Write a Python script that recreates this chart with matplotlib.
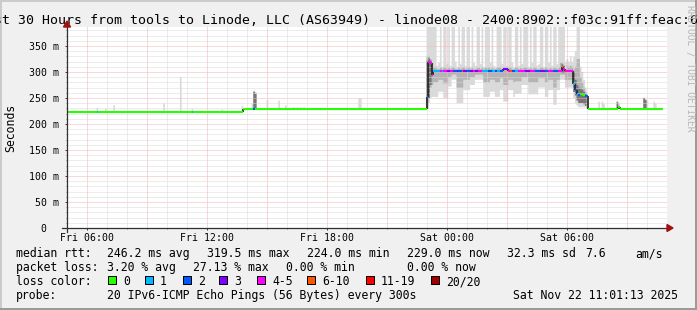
import numpy as np
import matplotlib
matplotlib.use("Agg")
import matplotlib.pyplot as plt
from matplotlib.patches import Rectangle, Polygon
from matplotlib.lines import Line2D
from matplotlib.collections import LineCollection

# ---------------- data ----------------
title = "Last 30 Hours from tools to Linode, LLC (AS63949) - linode08 - 2400:8902::f03c:91ff:feac:6"
window_start_h = 5 + 1 / 60 + 13 / 3600      # Fri 05:01:13 (hours since Fri 00:00)
window_hours = 30
first_sample_h = 5 + 5 / 60                   # Fri 05:05
step_h = 5 / 60                               # 300 s
n_samples = 357

x_tick_hours = [6, 12, 18, 24, 30]
x_tick_labels = ["Fri 06:00", "Fri 12:00", "Fri 18:00", "Sat 00:00", "Sat 06:00"]
y_tick_values = [0, 50, 100, 150, 200, 250, 300, 350]
y_tick_labels = ["0  ", "50 m", "100 m", "150 m", "200 m", "250 m", "300 m", "350 m"]

# median rtt (ms) as runs of equal values
median_run_values = [224, 229, 252, 320, 318, 294, 302.5, 305, 302.5, 310, 305, 302.5,
                     277, 266, 258, 256, 257, 256, 253, 229, 233, 229]
median_run_counts = [105, 110, 1, 1, 1, 1, 42, 3, 32, 1, 1, 5,
                     1, 1, 1, 1, 1, 2, 2, 18, 1, 26]

# lost pings (of 20) per sample
loss_isolated_idx = [17, 74, 111]
loss_isolated_val = [1, 1, 2]
loss_block_start = 215
loss_block = [2, 4, 4, 4,
              1, 1, 1, 1, 4, 1, 4, 4, 3, 3,
              4, 4, 2, 2, 3, 2, 2, 6, 3, 3,
              2, 2, 3, 3, 4, 3, 3, 4, 4, 1,
              1, 1, 1, 2, 2, 1, 1, 2, 1, 1,
              2, 2, 3, 3, 3, 4, 6, 2, 2, 1,
              1, 4, 4, 4, 4, 3, 3, 3, 4, 4,
              4, 2, 2, 2, 3, 3, 3, 2, 2, 4,
              4, 4, 2, 2, 2, 4, 4, 6, 4, 4,
              4, 4, 4, 4,
              1, 2, 1, 2, 0, 0, 0, 2, 2]

# smoke (ping spread) for the high block, samples 215..311
smoke_block_start = 215
smoke_outer_hi = [390, 390, 390, 390,
                  390, 390, 312, 318, 390, 310, 390, 390, 315, 390,
                  312, 390, 390, 320, 310, 390, 315, 390, 390, 312,
                  390, 390, 310, 390, 318, 312, 390, 390, 315, 390,
                  310, 390, 390, 390, 318, 390, 312, 310, 390, 390,
                  390, 315, 390, 390, 312, 390, 390, 318, 310, 390,
                  390, 312, 390, 315, 390, 390, 390, 310, 390, 318,
                  390, 390, 312, 315, 390, 390, 310, 390, 390, 318,
                  390, 312, 390, 390, 315, 390, 390, 390, 390, 320,
                  325, 320, 330, 320,
                  330, 340, 390, 390, 310, 300, 285, 270, 245]
smoke_outer_lo = [229, 240, 250, 252,
                  252, 252, 252, 262, 262, 262, 250, 250, 250, 272,
                  272, 285, 285, 285, 240, 240, 240, 240, 265, 265,
                  265, 265, 275, 275, 275, 285, 285, 285, 285, 285,
                  252, 252, 252, 252, 262, 262, 262, 252, 252, 252,
                  265, 265, 243, 243, 243, 265, 265, 265, 252, 258,
                  258, 258, 258, 275, 275, 275, 275, 257, 257, 257,
                  257, 257, 257, 270, 270, 270, 270, 252, 252, 265,
                  265, 265, 237, 237, 265, 265, 285, 285, 285, 270,
                  270, 270, 270, 270,
                  250, 240, 235, 232, 232, 232, 232, 232, 228]
smoke_mid_hi = [330, 330, 325, 318,
                309, 309, 305, 305, 309, 305, 309, 309, 305, 309,
                305, 309, 309, 305, 305, 309, 305, 309, 309, 305,
                309, 309, 305, 309, 305, 305, 309, 309, 305, 309,
                305, 309, 309, 309, 305, 309, 305, 305, 309, 309,
                309, 305, 309, 309, 305, 309, 309, 305, 305, 309,
                309, 305, 309, 305, 309, 309, 309, 305, 309, 305,
                309, 309, 305, 305, 309, 309, 305, 309, 309, 305,
                309, 305, 309, 309, 305, 309, 318, 318, 309, 305,
                312, 310, 312, 310,
                305, 310, 325, 325, 290, 280, 270, 262, 235]
smoke_mid_lo = [240, 255, 270, 275,
                280, 280, 280, 285, 285, 285, 278, 278, 278, 290,
                290, 295, 295, 295, 270, 270, 270, 270, 285, 285,
                285, 285, 290, 290, 290, 295, 295, 295, 295, 295,
                280, 280, 280, 280, 285, 285, 285, 280, 280, 280,
                288, 288, 275, 275, 275, 285, 285, 285, 280, 282,
                282, 282, 282, 290, 290, 290, 290, 280, 280, 280,
                280, 280, 280, 288, 288, 288, 288, 280, 280, 285,
                285, 285, 270, 270, 285, 285, 295, 295, 295, 285,
                285, 285, 285, 285,
                262, 255, 248, 245, 245, 245, 243, 240, 230]

# isolated light smoke columns in the low parts
spike_idx = [17, 22, 27, 57, 67, 74, 92, 104, 110, 111, 112, 119, 126, 130, 135, 137,
             139, 141, 174, 175, 318, 320, 321, 329, 330, 345, 346, 347, 351, 352]
spike_lo = [223, 223, 223, 223, 222, 223, 223, 223, 228, 228, 228, 228, 228, 228, 228, 228,
            228, 228, 228, 228, 228, 228, 228, 228, 228, 228, 228, 228, 228, 228]
spike_hi = [231, 229, 236, 240, 290, 229, 228, 234, 240, 264, 262, 246, 245, 236, 232, 232,
            232, 232, 249, 249, 243, 243, 238, 245, 240, 251, 248, 245, 243, 240]

# dark core of the smoke
dark_idx = [111, 112, 215, 216, 217, 296, 297, 303, 304, 305, 306, 307, 308, 309, 310,
            329, 345, 346]
dark_lo = [229, 229, 229, 250, 275, 298, 298, 262, 255, 245, 240, 240, 240, 238, 235,
           229, 229, 229]
dark_hi = [262, 258, 322, 326, 322, 315, 312, 300, 285, 275, 270, 268, 266, 262, 258,
           242, 250, 246]

loss_legend_labels = ["0", "1", "2", "3", "4-5", "6-10", "11-19", "20/20"]
loss_legend_colors = ["#26ff00", "#00b8ff", "#0059ff", "#7e00ff", "#ff00ff", "#ff5500",
                      "#ff0000", "#a10000"]

stats_rtt = ["246.2 ms avg", "319.5 ms max", "224.0 ms min", "229.0 ms now", "32.3 ms sd",
             "7.6", "am/s"]
stats_loss = ["3.20 % avg", "27.13 % max", "0.00 % min", "0.00 % now"]
probe_text = "20 IPv6-ICMP Echo Pings (56 Bytes) every 300s"
stamp_text = "Sat Nov 22 11:01:13 2025"

# ---------------- assemble arrays ----------------
median = np.repeat(np.array(median_run_values, float), median_run_counts)
assert len(median) == n_samples
loss = np.zeros(n_samples, int)
loss[loss_isolated_idx] = loss_isolated_val
loss[loss_block_start:loss_block_start + len(loss_block)] = loss_block

outer_lo = median.copy(); outer_hi = median.copy()
mid_lo = median.copy(); mid_hi = median.copy()
dk_lo = median.copy(); dk_hi = median.copy()
s0 = smoke_block_start
outer_lo[s0:s0 + len(smoke_outer_lo)] = smoke_outer_lo
outer_hi[s0:s0 + len(smoke_outer_hi)] = smoke_outer_hi
mid_lo[s0:s0 + len(smoke_mid_lo)] = smoke_mid_lo
mid_hi[s0:s0 + len(smoke_mid_hi)] = smoke_mid_hi
outer_lo[spike_idx] = spike_lo
outer_hi[spike_idx] = spike_hi
dk_lo[dark_idx] = dark_lo
dk_hi[dark_idx] = dark_hi

t = first_sample_h + np.arange(n_samples) * step_h
edges = np.append(t, t[-1] + step_h)


def loss_color(n):
    if n <= 3:
        return loss_legend_colors[n]
    if n <= 5:
        return loss_legend_colors[4]
    if n <= 10:
        return loss_legend_colors[5]
    if n <= 19:
        return loss_legend_colors[6]
    return loss_legend_colors[7]


# ---------------- figure ----------------
W, H = 697, 310
MONO = "DejaVu Sans Mono"
plt.rcParams["font.family"] = [MONO]
fig = plt.figure(figsize=(W / 100, H / 100), dpi=100)
fig.patch.set_facecolor("#f0f0f0")


def fx(x):
    return x / W


def fy(y):
    return 1 - y / H


ax = fig.add_axes([fx(67), fy(228), 600 / W, 201 / H])
ax.set_facecolor("white")
x0, x1 = window_start_h, window_start_h + window_hours
ax.set_xlim(x0, x1)
ax.set_ylim(0, 386.5)
for s in ax.spines.values():
    s.set_visible(False)

# smoke
ax.stairs(outer_hi, edges, baseline=outer_lo, fill=True, color="#dadada", lw=0, zorder=1)
ax.stairs(mid_hi, edges, baseline=mid_lo, fill=True, color="#b4b4b4", lw=0, zorder=1.1)
ax.stairs(dk_hi, edges, baseline=dk_lo, fill=True, color="#767676", lw=0, zorder=1.2)

# grid (drawn over the smoke like rrdtool)
for v in range(10, 390, 10):
    major = v % 50 == 0
    ax.axhline(v, color="#f2b4b4" if major else "#dadada", lw=0.72,
               ls=(0, (1, 1)), zorder=2)
for h in range(int(np.ceil(x0)), int(x1) + 1):
    major = h % 3 == 0
    ax.axvline(h, color="#f2b4b4" if major else "#dadada", lw=0.72,
               ls=(0, (1, 1)), zorder=2)

# median: vertical joins in black, then coloured steps
joins = []
for i in range(n_samples - 1):
    if median[i] != median[i + 1]:
        joins.append([(edges[i + 1], median[i]), (edges[i + 1], median[i + 1])])
ax.add_collection(LineCollection(joins, colors="#202020", linewidths=1.2, zorder=3))
segs = [[(edges[i], median[i]), (edges[i + 1], median[i])] for i in range(n_samples)]
ax.add_collection(LineCollection(segs, colors=[loss_color(n) for n in loss],
                                 linewidths=1.5, capstyle="butt", zorder=4))

# ticks
ax.set_xticks(x_tick_hours)
ax.set_xticklabels(x_tick_labels, fontsize=7.1, family=MONO)
ax.set_xticks(range(int(np.ceil(x0)), int(x1) + 1), minor=True)
ax.set_yticks(y_tick_values)
ax.set_yticklabels(y_tick_labels, fontsize=7.1, family=MONO)
ax.set_yticks(range(0, 390, 10), minor=True)
ax.tick_params(axis="both", which="minor", length=1.0, width=0.6, color="#707070",
               direction="out")
ax.tick_params(axis="both", which="major", length=1.5, width=0.72, color="#404040",
               direction="out")
ax.tick_params(axis="x", which="major", pad=2.0)
ax.tick_params(axis="y", which="major", pad=4.0)

# axes lines and arrows
axis_col = "#303030"
fig.add_artist(Line2D([fx(62), fx(668)], [fy(228), fy(228)], color=axis_col, lw=0.9,
                      transform=fig.transFigure, zorder=10))
fig.add_artist(Line2D([fx(67), fx(67)], [fy(232), fy(26)], color=axis_col, lw=0.9,
                      transform=fig.transFigure, zorder=10))
arrow_col = "#a01010"
fig.add_artist(Polygon([[fx(667), fy(224.5)], [fx(673), fy(228)], [fx(667), fy(231.5)]],
                       closed=True, color=arrow_col, transform=fig.transFigure, zorder=11))
fig.add_artist(Polygon([[fx(63.5), fy(27)], [fx(67), fy(21)], [fx(70.5), fy(27)]],
                       closed=True, color=arrow_col, transform=fig.transFigure, zorder=11))

# frame
fig.add_artist(Rectangle((0, fy(2)), 1, 2 / H, color="#cbcbcb", transform=fig.transFigure, lw=0))
fig.add_artist(Rectangle((0, 0), 2 / W, 1, color="#cbcbcb", transform=fig.transFigure, lw=0))
fig.add_artist(Rectangle((0, 0), 1, 2 / H, color="#9b9b9b", transform=fig.transFigure, lw=0))
fig.add_artist(Rectangle((fx(695), 0), 2 / W, 1, color="#9b9b9b", transform=fig.transFigure, lw=0))

# title (clipped at both sides as in the reference)
fig.text(fx(1.7 - 3 * 7.94), fy(24), title, ha="left", va="baseline", fontsize=9.5,
         family=MONO, color="black")
fig.text(fx(10.8), fy(127.5), "Seconds", rotation=90, ha="center", va="center",
         fontsize=8.3, family=MONO)
fig.text(fx(689.5), fy(5), "RRDTOOL / TOBI OETIKER", rotation=270, ha="center", va="top",
         fontsize=6.9, family=MONO, color="#b8b8b8")

# legend block
LF = 8.3
rows_y = [257.3, 271.3, 285.3, 299.3]
fig.text(fx(16), fy(rows_y[0]), "median rtt:", fontsize=LF, va="baseline")
for txt, xp in zip(stats_rtt, [107, 207, 307, 407, 507, 585, 635]):
    fig.text(fx(xp), fy(rows_y[0]), txt, fontsize=LF, va="baseline")
fig.text(fx(16), fy(rows_y[1]), "packet loss:", fontsize=LF, va="baseline")
for txt, xp in zip(stats_loss, [107, 193, 286, 407]):
    fig.text(fx(xp), fy(rows_y[1]), txt, fontsize=LF, va="baseline")
fig.text(fx(16), fy(rows_y[2]), "loss color:", fontsize=LF, va="baseline")
for lab, col, xp in zip(loss_legend_labels, loss_legend_colors,
                        [108, 145, 183, 219, 257, 307, 366, 431]):
    fig.add_artist(Rectangle((fx(xp), fy(283.5)), 8 / W, 8 / H, facecolor=col,
                             edgecolor="black", lw=0.72, transform=fig.transFigure))
    fig.text(fx(xp + 15), fy(rows_y[2]), lab, fontsize=LF, va="baseline")
fig.text(fx(16), fy(rows_y[3]), "probe:", fontsize=LF, va="baseline")
fig.text(fx(107), fy(rows_y[3]), probe_text, fontsize=LF, va="baseline")
fig.text(fx(513), fy(rows_y[3]), stamp_text, fontsize=LF, va="baseline")

fig.savefig("out.png", dpi=100, facecolor=fig.get_facecolor())
